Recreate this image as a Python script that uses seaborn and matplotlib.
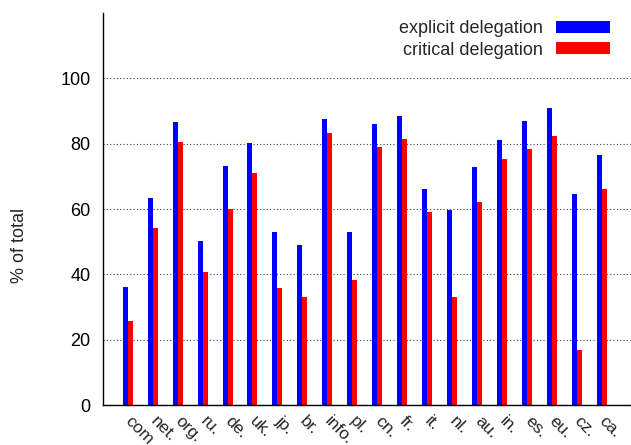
import matplotlib
matplotlib.use("Agg")
import matplotlib.pyplot as plt
from matplotlib.patches import Patch
import pandas as pd
import seaborn as sns

# Top-level domains and the share of zones with each delegation type
tlds = ["com.", "net.", "org.", "ru.", "de.", "uk.", "jp.", "br.", "info.", "pl.",
        "cn.", "fr.", "it.", "nl.", "au.", "in.", "es.", "eu.", "cz.", "ca."]
explicit = [36.1, 63.3, 86.6, 50.2, 73.1, 80.1, 53.0, 48.9, 87.5, 53.0,
            85.9, 88.4, 66.1, 59.7, 72.8, 81.1, 86.9, 90.8, 64.6, 76.5]
critical = [25.8, 54.2, 80.4, 40.7, 60.0, 71.0, 35.8, 33.1, 83.2, 38.3,
            79.1, 81.4, 59.0, 33.1, 62.1, 75.3, 78.3, 82.3, 16.9, 66.1]
series_names = ["explicit delegation", "critical delegation"]
colors = ["#0000ff", "#ff0000"]
y_ticks = [0, 20, 40, 60, 80, 100]

df = pd.DataFrame({
    "tld": tlds * 2,
    "pct": explicit + critical,
    "series": [series_names[0]] * len(tlds) + [series_names[1]] * len(tlds),
})

sns.set_style("white")
plt.rcParams["font.family"] = ["Liberation Sans", "DejaVu Sans"]

fig = plt.figure(figsize=(6.31, 4.45), dpi=100)
ax = fig.add_axes([103 / 631, 40 / 445, 528 / 631, 392 / 445])

sns.barplot(data=df, x="tld", y="pct", hue="series", order=tlds,
            hue_order=series_names, palette=colors, width=0.4,
            saturation=1, linewidth=0, ax=ax, legend=False)

ax.set_xlim(-0.99, 20.17)
ax.set_ylim(0, 120)
ax.set_yticks(y_ticks)
ax.set_yticklabels([str(t) for t in y_ticks], fontsize=13)
ax.yaxis.grid(True, linestyle=(0, (1, 2)), color="#444444", linewidth=0.8)
ax.set_axisbelow(True)

for side in ["top", "right"]:
    ax.spines[side].set_visible(False)
for side in ["left", "bottom"]:
    ax.spines[side].set_color("black")
    ax.spines[side].set_linewidth(1.0)

ax.tick_params(axis="y", direction="in", length=5, width=0.8, pad=9, colors="black")
ax.tick_params(axis="x", length=0, pad=10)
for lbl in ax.get_xticklabels():
    lbl.set_rotation(-45)
    lbl.set_ha("left")
    lbl.set_va("center")
    lbl.set_rotation_mode("anchor")
    lbl.set_fontsize(12.5)

ax.set_xlabel("")
ax.set_ylabel("")
fig.text(20 / 631, 1 - 245 / 445, "% of total", rotation=90,
         ha="center", va="center", fontsize=13)

handles = [Patch(facecolor=c, edgecolor="none") for c in colors]
ax.legend(handles, series_names, loc="upper right",
          bbox_to_anchor=(610 / 631, 1 - 20 / 445), bbox_transform=fig.transFigure,
          frameon=False, markerfirst=False, fontsize=13, handlelength=3.0,
          handleheight=0.65, handletextpad=0.7, labelspacing=0.25, borderpad=0,
          borderaxespad=0)

fig.savefig("out.png", dpi=100)
